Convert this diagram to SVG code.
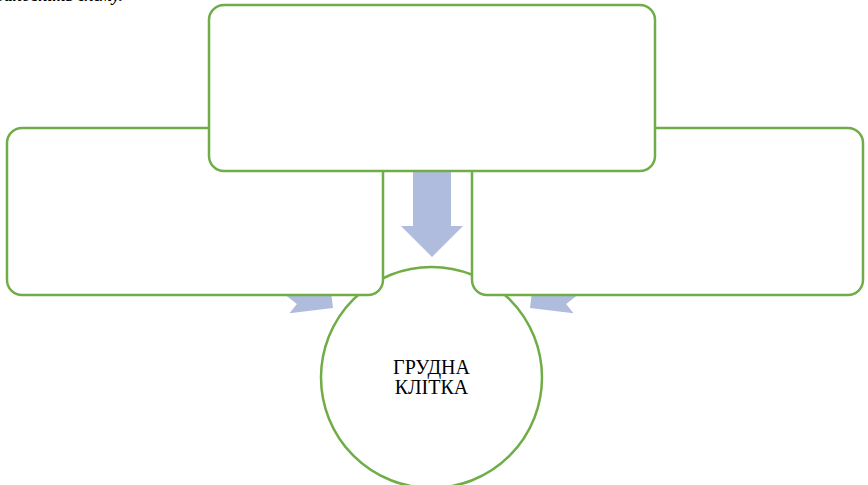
<svg xmlns="http://www.w3.org/2000/svg" width="868" height="485" viewBox="0 0 868 485">
  <style>
    .box { fill: #FFFFFF; stroke: #70AD47; stroke-width: 2.5; }
    .arrow { fill: #B0BCDE; stroke: none; }
    .label { font-family: "Liberation Serif", "Times New Roman", serif; font-size: 20px; fill: #000000; text-anchor: middle; }
    .caption { font-family: "Liberation Serif", "Times New Roman", serif; font-size: 17px; font-style: italic; font-weight: bold; fill: #000000; text-anchor: end; }
  </style>
  <defs>
    <!-- block arrow pointing +x, tip at origin -->
    <polygon id="blockArrow" points="0,0 -31,-31 -31,-19 -140,-19 -140,19 -31,19 -31,31"/>
  </defs>
  <rect width="868" height="485" fill="#FFFFFF"/>
  <text class="caption" x="123" y="0.5">Заповніть схему.</text>

  <g id="connectors">
    <use href="#blockArrow" class="arrow" transform="translate(333,308) rotate(38)"/>
    <use href="#blockArrow" class="arrow" transform="translate(530,308) rotate(142)"/>
    <polygon class="arrow" points="413,160 451,160 451,226 463,226 432,257 401,226 413,226"/>
  </g>

  <g id="center">
    <circle class="box" cx="431.5" cy="377.5" r="110.5"/>
    <text class="label" x="431.5" y="373.5">ГРУДНА</text>
    <text class="label" x="431.5" y="394">КЛІТКА</text>
  </g>

  <g id="left-box">
    <rect class="box" x="7" y="128" width="376" height="167" rx="15" ry="15"/>
  </g>

  <g id="right-box">
    <rect class="box" x="472" y="128" width="391" height="167" rx="15" ry="15"/>
  </g>

  <g id="top-box">
    <rect class="box" x="209" y="5" width="446" height="166" rx="15" ry="15"/>
  </g>
</svg>
